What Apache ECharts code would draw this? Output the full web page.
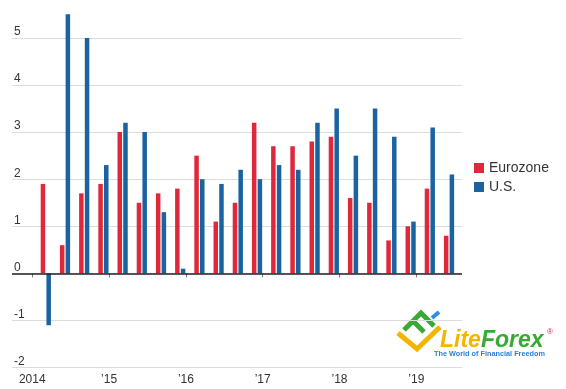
<!DOCTYPE html>
<html><head><meta charset="utf-8">
<script src="https://cdn.jsdelivr.net/npm/echarts@6/dist/echarts.min.js"></script>
<style>html,body{margin:0;padding:0;background:#fff}#c{width:566px;height:389px}</style>
</head><body><div id="c"></div>
<script>
// ---- data ----
const quarters = ['2014 Q1','2014 Q2','2014 Q3','2014 Q4','2015 Q1','2015 Q2','2015 Q3','2015 Q4',
  '2016 Q1','2016 Q2','2016 Q3','2016 Q4','2017 Q1','2017 Q2','2017 Q3','2017 Q4',
  '2018 Q1','2018 Q2','2018 Q3','2018 Q4','2019 Q1','2019 Q2'];
const eurozone = [1.9,0.6,1.7,1.9,3.0,1.5,1.7,1.8,2.5,1.1,1.5,3.2,2.7,2.7,2.8,2.9,1.6,1.5,0.7,1.0,1.8,0.8];
const us = [-1.1,5.5,5.0,2.3,3.2,3.0,1.3,0.1,2.0,1.9,2.2,2.0,2.3,2.2,3.2,3.5,2.5,3.5,2.9,1.1,3.1,2.1];
const seriesNames = ['Eurozone','U.S.'];
const yearTicks = [2014,2015,2016,2017,2018,2019];
const yearLabels = ['2014','\u201915','\u201916','\u201917','\u201918','\u201919'];
const yTicks = [-2,-1,0,1,2,3,4,5];

// ---- layout helpers ----
const quarterOffset = 0.176; // where a quarter's bar pair sits within the year (layout)
function qx(label){ const [y,q] = label.split(' Q'); return +y + (+q - 1) * 0.25 + quarterOffset; }
const euData = quarters.map((q,i)=>[qx(q), eurozone[i]]);
const usData = quarters.map((q,i)=>[qx(q), us[i]]);

const labelFont = "'Liberation Sans',Arial,sans-serif";
const chart = echarts.init(document.getElementById('c'), null, {renderer:'canvas'});
chart.setOption({
  animation:false,
  backgroundColor:'#fff',
  grid:{left:12, right:104, top:-9.2, bottom:21.4, outerBoundsMode:'none', containLabel:false},
  legend:{
    orient:'vertical', left:469, top:156, icon:'rect', itemWidth:10, itemHeight:10, itemGap:5,
    textStyle:{fontSize:14, color:'#333', fontFamily:"'Liberation Sans',Arial,sans-serif"},
    data:seriesNames
  },
  xAxis:{
    type:'value', min:2013.7357, max:2019.595,
    splitLine:{show:false}, axisLine:{show:false},
    axisTick:{show:true, length:4, lineStyle:{color:'#777'}, customValues:yearTicks},
    axisLabel:{show:true, customValues:yearTicks, margin:6, fontSize:12, color:'#333', fontFamily:labelFont,
      formatter:v=>{const i=yearTicks.indexOf(Math.round(v)); return i>=0?yearLabels[i]:'';}}
  },
  yAxis:{
    type:'value', min:-2, max:6, interval:1,
    axisLine:{show:false}, axisTick:{show:false},
    splitLine:{show:true, lineStyle:{color:'#dcdcdc', width:1}},
    axisLabel:{inside:true, margin:2, align:'left', verticalAlign:'bottom', fontSize:12, color:'#333', fontFamily:labelFont,
      formatter:v=> yTicks.indexOf(v)>=0 ? String(v) : ''}
  },
  series:[
    {name:seriesNames[0], type:'bar', data:euData, barWidth:4.5, barGap:'27%', itemStyle:{color:'#E0283D'},
     markLine:{silent:true, symbol:['none','none'], label:{show:false},
       lineStyle:{color:'#222', width:1.5, type:'solid'}, data:[{yAxis:0}]}},
    {name:seriesNames[1], type:'bar', data:usData, barWidth:4.5, barGap:'27%', itemStyle:{color:'#1A62A0'}}
  ],
  graphic:[
    {type:'group', silent:true, children:[
      {type:'polyline', shape:{points:[[398,333],[417,349],[440,327]]}, style:{stroke:'#F4B400', lineWidth:5, fill:null, lineJoin:'miter'}},
      {type:'polyline', shape:{points:[[404,330],[421,313],[434,326]]}, style:{stroke:'#3AA935', lineWidth:5, fill:null}},
      {type:'line', shape:{x1:413,y1:321,x2:424,y2:332}, style:{stroke:'#3AA935', lineWidth:5}},
      {type:'line', shape:{x1:432,y1:318,x2:439,y2:312}, style:{stroke:'#2F8FE0', lineWidth:4}},
      {type:'text', x:440, y:341, style:{text:'Lite', fill:'#F4B400', font:"italic bold 23px 'Liberation Sans',Arial,sans-serif", verticalAlign:'middle'}},
      {type:'text', x:481, y:341, style:{text:'Forex', fill:'#3AA935', font:"italic bold 23px 'Liberation Sans',Arial,sans-serif", verticalAlign:'middle'}},
      {type:'text', x:547, y:332, style:{text:'\u00AE', fill:'#E0283D', font:"8px 'Liberation Sans',Arial,sans-serif", verticalAlign:'middle'}},
      {type:'text', x:434, y:354, style:{text:'The World of Financial Freedom', fill:'#2A7FD4', font:"bold 7.3px 'Liberation Sans',Arial,sans-serif", verticalAlign:'middle'}}
    ]}
  ]
});
</script></body></html>
